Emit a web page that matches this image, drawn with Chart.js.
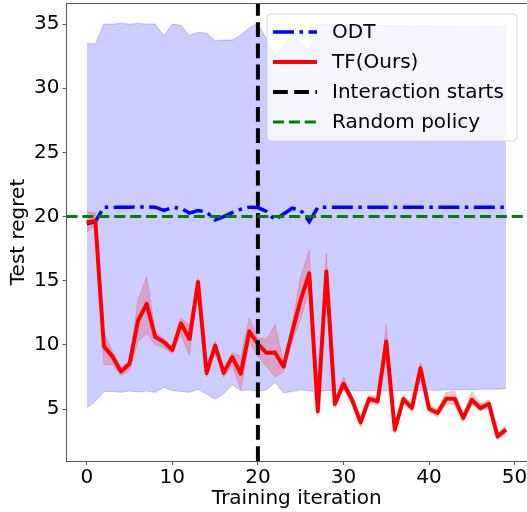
<!DOCTYPE html>
<html>
<head>
<meta charset="utf-8">
<script src="https://cdn.jsdelivr.net/npm/chart.js@4.4.1/dist/chart.umd.min.js"></script>
<style>
  html, body { margin: 0; padding: 0; background: #fff; }
  canvas { display: block; }
</style>
</head>
<body>
<canvas id="c" width="527" height="512"></canvas>
<script>
// ---- data ----
const iterations = [0,1,2,3,4,5,6,7,8,9,10,11,12,13,14,15,16,17,18,19,20,21,22,23,24,25,26,27,28,29,30,31,32,33,34,35,36,37,38,39,40,41,42,43,44,45,46,47,48,49];

const odtMean = [19.43,19.6,20.73,20.73,20.73,20.73,20.75,20.75,20.73,20.47,20.7,20.65,20.26,20.47,20.35,19.74,20.0,20.3,20.57,20.73,20.7,20.4,19.74,20.2,20.65,20.5,19.6,20.7,20.73,20.73,20.73,20.73,20.73,20.73,20.73,20.73,20.73,20.73,20.73,20.73,20.73,20.73,20.73,20.73,20.73,20.73,20.73,20.73,20.73,20.73];
const odtUpper = [33.5,33.45,35.0,35.0,35.05,35.0,35.05,35.0,35.0,34.07,35.0,34.9,34.1,34.35,34.3,33.7,33.75,33.75,34.15,34.7,35.07,33.8,32.46,33.37,34.3,33.6,33.0,35.0,35.0,34.95,34.95,34.93,34.93,34.9,34.9,34.9,34.88,34.88,34.88,34.86,34.86,34.85,34.85,34.84,34.83,34.82,34.82,34.81,34.8,34.8];
const odtLower = [5.08,5.6,6.37,6.37,6.3,6.4,6.33,6.4,6.3,6.68,6.45,6.37,6.3,6.55,6.17,5.78,6.2,6.9,6.45,6.5,6.37,6.5,7.07,6.25,6.37,6.5,6.4,6.35,6.45,6.4,6.45,6.42,6.4,6.45,6.43,6.4,6.42,6.45,6.4,6.45,6.48,6.45,6.5,6.48,6.5,6.5,6.55,6.55,6.55,6.6];

const tfMean = [19.56,19.66,9.88,9.1,7.93,8.53,11.9,13.2,10.62,10.22,9.6,11.68,10.45,14.9,7.8,9.95,7.82,9.05,7.75,11.05,10.08,9.38,9.41,8.3,11.0,13.5,15.57,4.82,15.72,5.39,6.97,5.72,3.96,5.8,5.6,10.27,3.39,5.78,5.07,8.19,5.02,4.69,5.8,5.8,4.3,5.72,5.07,5.41,2.87,3.39];
const tfUpper = [20.4,20.3,10.9,9.5,8.2,8.8,13.5,15.3,11.0,10.5,9.8,12.1,11.5,15.2,8.1,10.3,8.1,9.4,9.1,12.1,10.55,10.4,11.6,8.6,11.6,15.3,17.4,5.2,17.15,5.7,7.5,6.0,4.3,6.1,5.9,11.56,3.7,6.1,5.4,8.6,5.3,4.95,6.3,6.37,4.6,6.37,5.4,5.7,3.15,3.7];
const tfLower = [18.8,19.3,8.45,8.45,7.6,8.0,10.27,10.9,10.0,9.8,9.3,10.8,9.2,14.5,7.5,9.6,7.5,8.4,6.5,10.27,9.1,8.3,7.5,7.9,10.3,12.0,14.3,4.4,15.0,5.1,6.6,5.4,3.6,5.5,5.3,9.88,3.1,5.5,4.8,7.9,4.75,4.4,5.4,5.33,4.0,5.4,4.8,5.1,2.6,3.1];

const interactionStart = 20;
const randomPolicy = 20;

const xTicks = [0,10,20,30,40,50];
const yTicks = [5,10,15,20,25,30,35];
const xRange = [-2.37, 51.45];
const yRange = [0.95, 36.64];

const seriesLabels = ['ODT','TF(Ours)','Interaction starts','Random policy'];
const xTitle = 'Training iteration';
const yTitle = 'Test regret';

// ---- build ----
const pts = arr => iterations.map((x, i) => ({x: x, y: arr[i]}));
const FONT = '"DejaVu Sans", sans-serif';

const datasets = [
  { label: '_odtLower', data: pts(odtLower), borderColor: 'rgba(0,0,255,0.2)', borderWidth: 1, pointRadius: 0, fill: false, order: 7 },
  { label: '_odtUpper', data: pts(odtUpper), borderColor: 'rgba(0,0,255,0.2)', borderWidth: 1, pointRadius: 0, fill: 0, backgroundColor: 'rgba(0,0,255,0.2)', order: 6 },
  { label: seriesLabels[0], data: pts(odtMean), borderColor: '#0000ff', borderWidth: 3.5, borderDash: [21,5.5,3.5,5.5], pointRadius: 0, fill: false, order: 5 },
  { label: '_tfLower', data: pts(tfLower), borderColor: 'rgba(255,0,0,0.2)', borderWidth: 1, pointRadius: 0, fill: false, order: 4 },
  { label: '_tfUpper', data: pts(tfUpper), borderColor: 'rgba(255,0,0,0.2)', borderWidth: 1, pointRadius: 0, fill: 3, backgroundColor: 'rgba(255,0,0,0.2)', order: 3 },
  { label: seriesLabels[1], data: pts(tfMean), borderColor: '#ff0000', borderWidth: 4, pointRadius: 0, fill: false, order: 2, borderJoinStyle: 'round' },
  { label: seriesLabels[2], data: [{x: interactionStart, y: yRange[0]}, {x: interactionStart, y: yRange[1]}], borderColor: '#000000', borderWidth: 4, borderDash: [14.8,6.4], pointRadius: 0, fill: false, order: 1 },
  { label: seriesLabels[3], data: [{x: xRange[0], y: randomPolicy}, {x: xRange[1], y: randomPolicy}], borderColor: '#008000', borderWidth: 3, borderDash: [11.1,4.8], pointRadius: 0, fill: false, order: 0 }
];

const mplPlugin = {
  id: 'mplDecor',
  afterDraw(chart) {
    const ctx = chart.ctx, a = chart.chartArea;
    ctx.save();
    // top spine
    ctx.strokeStyle = '#555';
    ctx.lineWidth = 1;
    ctx.beginPath();
    ctx.moveTo(a.left, a.top + 0.5);
    ctx.lineTo(a.right, a.top + 0.5);
    ctx.stroke();
    // legend
    const items = [2,5,6,7].map(i => chart.data.datasets[i]);
    const w = 250, h = 127, r = 4;
    const x0 = a.right - 10 - w, y0 = a.top + 11;
    ctx.beginPath();
    ctx.moveTo(x0 + r, y0);
    ctx.lineTo(x0 + w - r, y0);
    ctx.arcTo(x0 + w, y0, x0 + w, y0 + r, r);
    ctx.lineTo(x0 + w, y0 + h - r);
    ctx.arcTo(x0 + w, y0 + h, x0 + w - r, y0 + h, r);
    ctx.lineTo(x0 + r, y0 + h);
    ctx.arcTo(x0, y0 + h, x0, y0 + h - r, r);
    ctx.lineTo(x0, y0 + r);
    ctx.arcTo(x0, y0, x0 + r, y0, r);
    ctx.closePath();
    ctx.fillStyle = 'rgba(255,255,255,0.8)';
    ctx.fill();
    ctx.strokeStyle = 'rgba(204,204,204,0.8)';
    ctx.lineWidth = 1;
    ctx.stroke();
    ctx.font = '20px ' + FONT;
    ctx.textBaseline = 'middle';
    ctx.textAlign = 'left';
    items.forEach((ds, k) => {
      const yy = y0 + 18 + k * 30;
      ctx.beginPath();
      ctx.setLineDash(ds.borderDash || []);
      ctx.strokeStyle = ds.borderColor;
      ctx.lineWidth = ds.borderWidth;
      ctx.moveTo(x0 + 6, yy);
      ctx.lineTo(x0 + 50, yy);
      ctx.stroke();
      ctx.setLineDash([]);
      ctx.fillStyle = '#000';
      ctx.fillText(ds.label, x0 + 65, yy + 1);
    });
    ctx.restore();
  }
};

new Chart(document.getElementById('c'), {
  type: 'line',
  data: { datasets: datasets },
  options: {
    responsive: false,
    animation: false,
    devicePixelRatio: 1,
    layout: { padding: { top: 3, right: 0, left: 0, bottom: 0 } },
    plugins: { legend: { display: false }, tooltip: { enabled: false }, filler: { drawTime: 'beforeDatasetDraw' } },
    elements: { line: { tension: 0 } },
    scales: {
      x: {
        type: 'linear', min: xRange[0], max: xRange[1],
        afterBuildTicks: s => { s.ticks = xTicks.map(v => ({value: v})); },
        afterFit: s => { s.height = 51; s.paddingLeft = 0; s.paddingRight = 0; },
        grid: { display: true, drawOnChartArea: false, drawTicks: true, tickLength: 4, color: '#555', lineWidth: 1 },
        border: { display: true, color: '#555', width: 1 },
        ticks: { font: { family: FONT, size: 20 }, color: '#000', padding: 1, maxRotation: 0, autoSkip: false },
        title: { display: true, text: xTitle, font: { family: FONT, size: 20 }, color: '#000', padding: { top: 0, bottom: 1 } }
      },
      y: {
        type: 'linear', min: yRange[0], max: yRange[1],
        afterBuildTicks: s => { s.ticks = yTicks.map(v => ({value: v})); },
        afterFit: s => { s.width = 66.5; s.paddingTop = 0; s.paddingBottom = 0; },
        grid: { display: true, drawOnChartArea: false, drawTicks: true, tickLength: 4, color: '#555', lineWidth: 1 },
        border: { display: true, color: '#555', width: 1 },
        ticks: { font: { family: FONT, size: 20 }, color: '#000', padding: 3, autoSkip: false },
        title: { display: true, text: yTitle, font: { family: FONT, size: 20 }, color: '#000', padding: { top: 7, bottom: 0 } }
      }
    }
  },
  plugins: [mplPlugin]
});
</script>
</body>
</html>
